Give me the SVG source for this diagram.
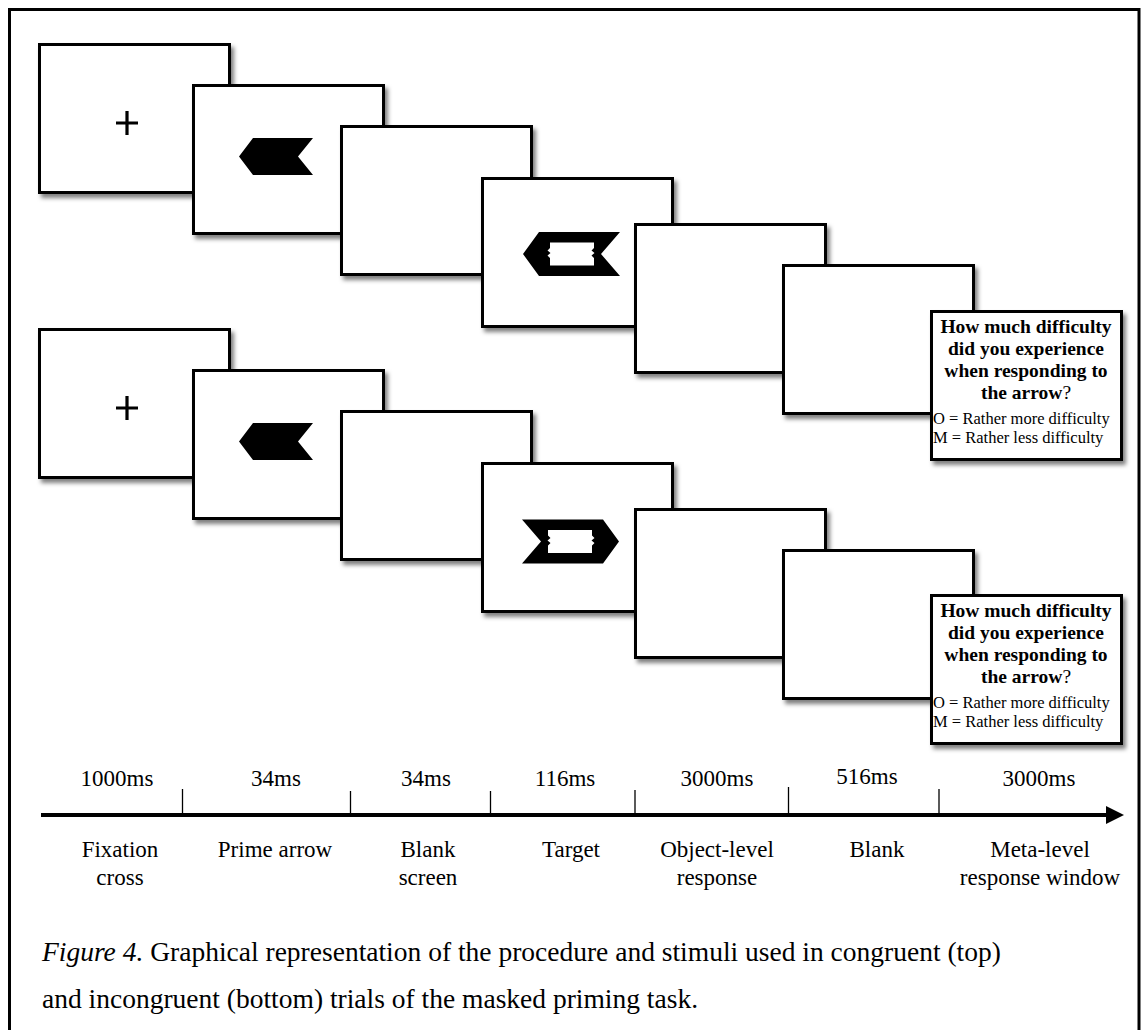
<svg xmlns="http://www.w3.org/2000/svg" xmlns:xlink="http://www.w3.org/1999/xlink" width="1147" height="1030" viewBox="0 0 1147 1030">
<style>
.slide{fill:#fff;stroke:#000;stroke-width:3;filter:url(#sh)}
.t{font-family:"Liberation Serif","Times New Roman",serif;fill:#000}
.lab{font-size:23px;text-anchor:middle}
.q{font-size:19.5px;font-weight:bold;text-anchor:middle}
.opt{font-size:16.5px}
.cap{font-size:27.5px}
.tick{stroke:#000;stroke-width:1.3}
</style>
<defs>
<filter id="sh" x="-10%" y="-10%" width="125%" height="130%">
<feDropShadow dx="3" dy="4" stdDeviation="2.2" flood-color="#000" flood-opacity="0.5"/>
</filter>
<rect id="slide" width="190" height="148"/>
<g id="cross"><path d="M-11,0H11M0,-12V12" stroke="#000" stroke-width="3.2" fill="none"/></g>
<path id="prime" d="M-37,0L-23,-18.5L37,-18.5L22,0L37,18.5L-23,18.5Z" fill="#000"/>
<g id="target">
<path d="M-48.5,0L-32.5,-22L48.5,-22L29.5,0L48.5,22L-32.5,22Z" fill="#000"/>
<path d="M-21.5,-11.5L22.5,-11.5L22.5,-6L20,-3.5L23,-1L20,1.5L22.5,4L22.5,11.5L-21.5,11.5L-21.5,4L-24,1.5L-21,-1L-24,-3.5L-21.5,-6Z" fill="#fff"/>
</g>
</defs>
<rect width="1147" height="1030" fill="#fff"/>
<rect x="9.5" y="9.5" width="1129.5" height="1040" fill="none" stroke="#000" stroke-width="3"/>

<!-- Top row: congruent -->
<g id="top-fixation"><use xlink:href="#slide" x="39.5" y="44.5" class="slide"/><use xlink:href="#cross" x="127" y="123"/></g>
<g id="top-prime"><use xlink:href="#slide" x="193.5" y="85.5" class="slide"/><use xlink:href="#prime" x="276" y="156.5"/></g>
<g id="top-blank"><use xlink:href="#slide" x="341.5" y="126.5" class="slide"/></g>
<g id="top-target"><use xlink:href="#slide" x="482.5" y="178.5" class="slide"/><use xlink:href="#target" transform="translate(571.5,254)"/></g>
<g id="top-object-response"><use xlink:href="#slide" x="635.5" y="224.5" class="slide"/></g>
<g id="top-blank2"><use xlink:href="#slide" x="783.5" y="265.5" class="slide"/></g>
<g id="top-meta-response">
<use xlink:href="#slide" x="931.5" y="311.5" class="slide"/>
<text class="t q" x="1026" y="333">How much difficulty</text>
<text class="t q" x="1026" y="355">did you experience</text>
<text class="t q" x="1026" y="377">when responding to</text>
<text class="t q" x="1026" y="399">the arrow<tspan font-weight="normal">?</tspan></text>
<text class="t opt" x="933" y="424">O = Rather more difficulty</text>
<text class="t opt" x="933" y="443">M = Rather less difficulty</text>
</g>

<!-- Bottom row: incongruent -->
<g id="bottom-fixation"><use xlink:href="#slide" x="39.5" y="329.5" class="slide"/><use xlink:href="#cross" x="127" y="408"/></g>
<g id="bottom-prime"><use xlink:href="#slide" x="193.5" y="370.5" class="slide"/><use xlink:href="#prime" x="276" y="441.5"/></g>
<g id="bottom-blank"><use xlink:href="#slide" x="341.5" y="411.5" class="slide"/></g>
<g id="bottom-target"><use xlink:href="#slide" x="482.5" y="463.5" class="slide"/><use xlink:href="#target" transform="translate(570.5,541.5) scale(-1,1)"/></g>
<g id="bottom-object-response"><use xlink:href="#slide" x="635.5" y="509.5" class="slide"/></g>
<g id="bottom-blank2"><use xlink:href="#slide" x="783.5" y="550.5" class="slide"/></g>
<g id="bottom-meta-response">
<use xlink:href="#slide" x="931.5" y="595.5" class="slide"/>
<text class="t q" x="1026" y="617">How much difficulty</text>
<text class="t q" x="1026" y="639">did you experience</text>
<text class="t q" x="1026" y="661">when responding to</text>
<text class="t q" x="1026" y="683">the arrow<tspan font-weight="normal">?</tspan></text>
<text class="t opt" x="933" y="708">O = Rather more difficulty</text>
<text class="t opt" x="933" y="727">M = Rather less difficulty</text>
</g>

<!-- Timeline -->
<g id="timeline">
<line x1="41" y1="815" x2="1108" y2="815" stroke="#000" stroke-width="4"/>
<polygon points="1106,806 1124,815 1106,824" fill="#000"/>
<line class="tick" x1="182.5" y1="789" x2="182.5" y2="814"/>
<line class="tick" x1="350.5" y1="791" x2="350.5" y2="814"/>
<line class="tick" x1="490.5" y1="791" x2="490.5" y2="814"/>
<line class="tick" x1="635" y1="790" x2="635" y2="814"/>
<line class="tick" x1="788.5" y1="787" x2="788.5" y2="814"/>
<line class="tick" x1="939" y1="789" x2="939" y2="814"/>
</g>
<g id="durations">
<text class="t lab" x="117" y="786">1000ms</text>
<text class="t lab" x="276" y="786">34ms</text>
<text class="t lab" x="426" y="786">34ms</text>
<text class="t lab" x="565" y="786">116ms</text>
<text class="t lab" x="717" y="786">3000ms</text>
<text class="t lab" x="867" y="784">516ms</text>
<text class="t lab" x="1039" y="786">3000ms</text>
</g>
<g id="phase-labels">
<text class="t lab" x="120" y="857">Fixation</text>
<text class="t lab" x="120" y="885">cross</text>
<text class="t lab" x="275" y="857">Prime arrow</text>
<text class="t lab" x="428" y="857">Blank</text>
<text class="t lab" x="428" y="885">screen</text>
<text class="t lab" x="571" y="857">Target</text>
<text class="t lab" x="717" y="857">Object-level</text>
<text class="t lab" x="717" y="885">response</text>
<text class="t lab" x="877" y="857">Blank</text>
<text class="t lab" x="1040" y="857">Meta-level</text>
<text class="t lab" x="1040" y="885">response window</text>
</g>
<g id="caption">
<text class="t cap" x="42" y="961"><tspan font-style="italic">Figure 4.</tspan> Graphical representation of the procedure and stimuli used in congruent (top)</text>
<text class="t cap" x="42" y="1008">and incongruent (bottom) trials of the masked priming task.</text>
</g>
</svg>
